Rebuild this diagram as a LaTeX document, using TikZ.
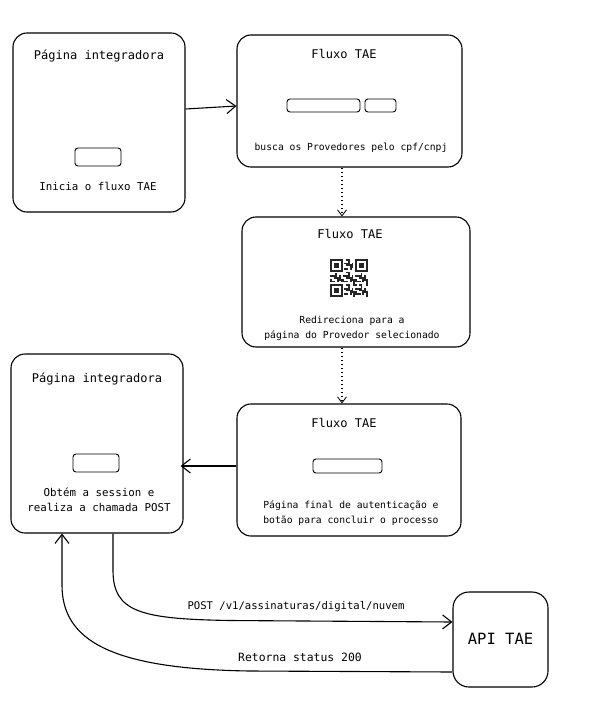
\documentclass[tikz,border=0pt]{standalone}
\usepackage{fontspec}
\newfontfamily\hand{DejaVu Sans Mono}
\usetikzlibrary{arrows.meta,calc}
\tikzset{
  box/.style={draw=black, line width=1.1pt, rounded corners=14pt, inner sep=0pt, fill=white},
  btn/.style={draw=black, line width=0.9pt, rounded corners=3pt, inner sep=0pt},
  title/.style={font=\hand\fontsize{12}{14}\selectfont, inner sep=0pt},
  small/.style={font=\hand\fontsize{9.7}{15}\selectfont, inner sep=0pt, align=center},
  mid/.style={font=\hand\fontsize{10.8}{14.5}\selectfont, inner sep=0pt, align=center},
  arr/.style={line width=1.1pt, -{Straight Barb[length=9pt,width=14pt,line width=1.1pt]}},
  dotarr/.style={line width=1.2pt, dash pattern=on 1.3pt off 2.7pt, -{Straight Barb[length=6pt,width=9pt,line width=0.8pt]}},
}
\begin{document}
\begin{tikzpicture}[x=1pt,y=-1pt]
\useasboundingbox (0,0) rectangle (595,706);
% boxes
\node[box, minimum width=172pt, minimum height=179pt] (A) at (99,122.5) {};
\node[box, minimum width=225pt, minimum height=132pt] (B) at (349.5,101) {};
\node[box, minimum width=228pt, minimum height=130pt] (C) at (356,282) {};
\node[box, minimum width=172pt, minimum height=179pt] (D) at (97,443.5) {};
\node[box, minimum width=224pt, minimum height=132pt] (E) at (349,470) {};
\node[box, rounded corners=16pt, minimum width=95pt, minimum height=95pt] (API) at (500.5,639.5) {};
% buttons
\node[btn, minimum width=46pt, minimum height=18pt] (Abtn) at (98,157) {};
\node[btn, minimum width=73pt, minimum height=13pt] (Bbtn1) at (323.5,105.5) {};
\node[btn, minimum width=31pt, minimum height=13pt] (Bbtn2) at (380.5,105.5) {};
\node[btn, minimum width=46pt, minimum height=18pt] (Dbtn) at (96,463) {};
\node[btn, minimum width=69pt, minimum height=14pt] (Ebtn) at (347.5,466) {};
% texts
\node[title] (At) at (99,56) {Página integradora};
\node[mid] (Ab) at (98,186) {Inicia o fluxo TAE};
\node[title] (Bt) at (344,54) {Fluxo TAE};
\node[small] (Bb) at (351,148) {busca os Provedores pelo cpf/cnpj};
\node[title] (Ct) at (350,234) {Fluxo TAE};
\node[small] (Cb) at (352,328.5) {Redireciona para a\\página do Provedor selecionado};
\node[title] (Dt) at (97,379) {Página integradora};
\node[mid] (Db) at (99,500) {Obtém a session e\\realiza a chamada POST};
\node[title] (Et) at (344,423) {Fluxo TAE};
\node[small] (Eb) at (351,513.5) {Página final de autenticação e\\botão para concluir o processo};
\node[font=\hand\fontsize{15.5}{18}\selectfont, inner sep=0pt] (APIt) at (500.5,639) {API TAE};
% QR code
\begin{scope}[shift={(330,259)}]
  \def\m{1.8}
  \foreach \i in {0,...,20}{
    \foreach \j in {0,...,20}{
      \pgfmathtruncatemacro\v{mod(\i*\i*3+\j*5+\i*\j*2+\j*\j+\i,7)}
      \pgfmathtruncatemacro\f{or(and(\i<8,\j<8),or(and(\i>12,\j<8),and(\i<8,\j>12)))}
      \ifnum\f=0 \ifnum\v<3 \fill[black!85] (\i*\m,\j*\m) rectangle ++(\m,\m); \fi\fi
    }
  }
  \foreach \a/\b in {0/0,14/0,0/14}{
    \fill[black!85] (\a*\m,\b*\m) rectangle ++(7*\m,7*\m);
    \fill[white] (\a*\m+\m,\b*\m+\m) rectangle ++(5*\m,5*\m);
    \fill[black!85] (\a*\m+2*\m,\b*\m+2*\m) rectangle ++(3*\m,3*\m);
  }
\end{scope}
% connectors
\draw[arr] ($(A.east)+(0,-13.5)$) -- ($(B.west)+(0,5)$);
\draw[dotarr] ($(B.south)+(-7.5,0)$) -- ($(C.north)+(-14,0)$);
\draw[dotarr] ($(C.south)+(-14,0)$) -- ($(E.north)+(-7,0)$);
\draw[arr] ($(E.west)+(0,-4)$) -- ($(D.east)+(-3,22.5)$);
\coordinate (postS) at ($(D.south)+(16,0)$);
\coordinate (postE) at ($(API.west)+(0,-17.5)$);
\draw[arr] (postS) -- (113,570) .. controls (113,612) and (140,619) .. (230,620.5) -- (postE);
\coordinate (retS) at ($(API.west)+(0,32.5)$);
\coordinate (retE) at ($(D.south)+(-35,0)$);
\draw[arr] (retS) -- (250,671) .. controls (110,669) and (62,640) .. (62,585) -- (retE);
% labels
\node[font=\hand\fontsize{10.6}{12}\selectfont, inner sep=0pt] (postL) at (296,607) {POST /v1/assinaturas/digital/nuvem};
\node[font=\hand\fontsize{11.4}{13}\selectfont, inner sep=0pt] (retL) at (300,657) {Retorna status 200};
\end{tikzpicture}
\end{document}
